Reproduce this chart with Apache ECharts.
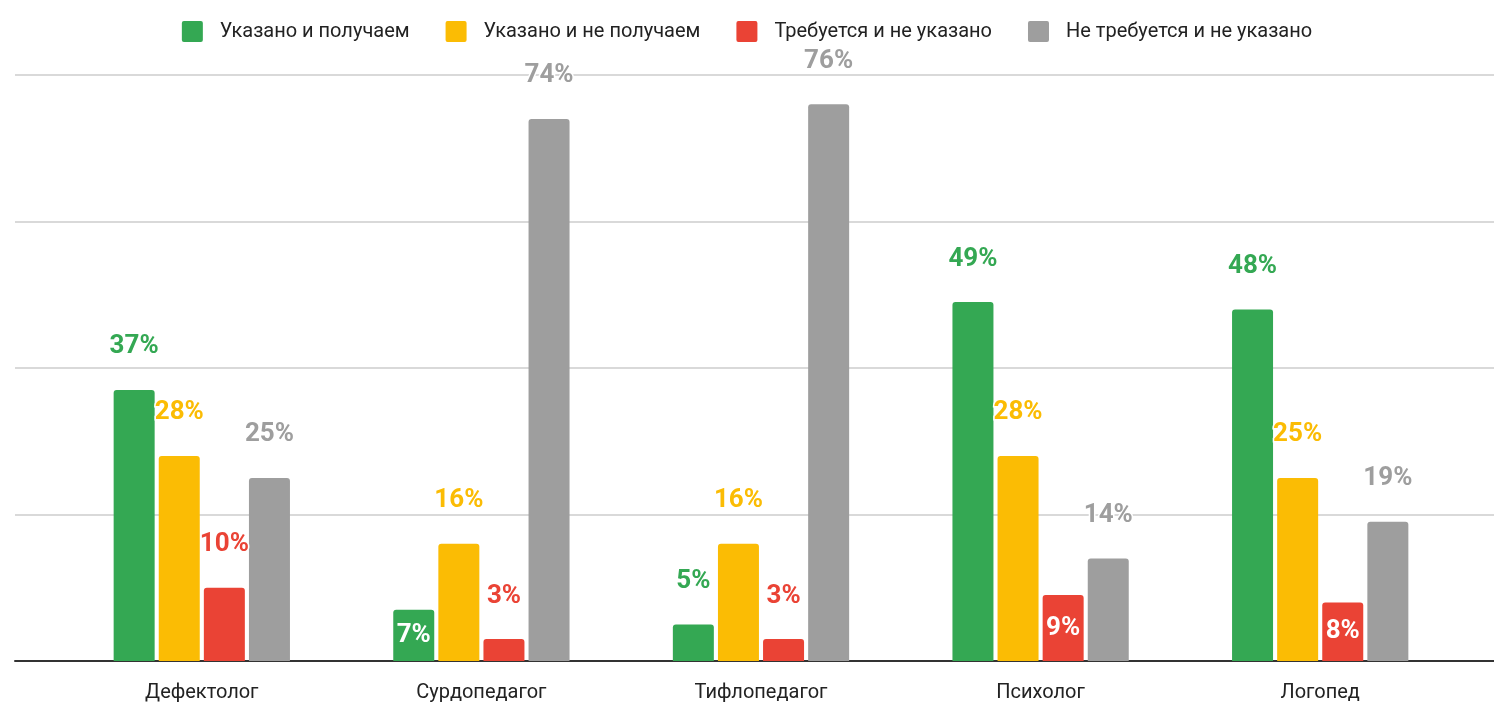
<!DOCTYPE html>
<html lang="ru">
<head>
    <meta charset="UTF-8">
    <title>Специалисты</title>
    <script src="https://cdn.jsdelivr.net/npm/echarts@6/dist/echarts.min.js"></script>
    <style>
        html, body { margin: 0; padding: 0; background: #fff; }
        #main { width: 1494px; height: 703px; }
    </style>
</head>
<body>
    <div id="main"></div>
    <script type="text/javascript">
        // категории
        var categories = ['Дефектолог', 'Сурдопедагог', 'Тифлопедагог', 'Психолог', 'Логопед'];
        // серии
        var seriesNames = ['Указано и получаем', 'Указано и не получаем', 'Требуется и не указано', 'Не требуется и не указано'];
        var givenReceived = [37, 7, 5, 49, 48];
        var givenNotReceived = [28, 16, 16, 28, 25];
        var neededNotGiven = [10, 3, 3, 9, 8];
        var notNeededNotGiven = [25, 74, 76, 14, 19];
        var yTicks = [0, 20, 40, 60, 80];

        var colors = ['#34a853', '#fbbc04', '#ea4335', '#9e9e9e'];
        var values = [givenReceived, givenNotReceived, neededNotGiven, notNeededNotGiven];
        // подписи внутри столбца (серия -> индексы категорий)
        var insideLabels = { 0: [1], 2: [3, 4] };

        var chart = echarts.init(document.getElementById('main'));

        var series = values.map(function (vals, s) {
            return {
                name: seriesNames[s],
                type: 'bar',
                xAxisIndex: 0,
                yAxisIndex: 0,
                barWidth: 41,
                barGap: '10%',
                itemStyle: { color: colors[s], borderRadius: [3, 3, 0, 0] },
                label: {
                    show: true,
                    position: 'top',
                    distance: 30,
                    formatter: '{c}%',
                    fontFamily: 'Roboto',
                    fontWeight: 'bold',
                    fontSize: 26,
                    color: colors[s],
                    textBorderColor: '#fff',
                    textBorderWidth: 3
                },
                data: vals.map(function (v, i) {
                    var inside = (insideLabels[s] || []).indexOf(i) >= 0;
                    if (!inside) return v;
                    return {
                        value: v,
                        label: { position: 'inside', color: '#fff', textBorderWidth: 0, distance: 0 }
                    };
                })
            };
        });

        var option = {
            animation: false,
            textStyle: { fontFamily: 'Roboto' },
            legend: {
                top: 16,
                left: 'center',
                itemWidth: 21,
                itemHeight: 21,
                itemGap: 36,
                icon: 'path://M2,0 L19,0 Q21,0 21,2 L21,19 Q21,21 19,21 L2,21 Q0,21 0,19 L0,2 Q0,0 2,0 Z',
                data: seriesNames,
                textStyle: { fontSize: 20, color: '#222', padding: [0, 0, 0, 12] }
            },
            grid: [
                { left: 62, right: 34, top: 75, bottom: 42 },
                { left: 15, right: 0, top: 75, bottom: 42 }
            ],
            xAxis: [
                {
                    type: 'category',
                    gridIndex: 0,
                    data: categories,
                    axisLine: { show: false },
                    axisTick: { show: false },
                    axisLabel: { fontSize: 20, color: '#222', margin: 22 }
                },
                {
                    type: 'category',
                    gridIndex: 1,
                    data: [],
                    axisLine: { show: true, lineStyle: { color: '#333', width: 2 } },
                    axisTick: { show: false },
                    axisLabel: { show: false }
                }
            ],
            yAxis: [
                {
                    type: 'value',
                    gridIndex: 0,
                    min: yTicks[0],
                    max: yTicks[yTicks.length - 1],
                    interval: 20,
                    splitLine: { show: false },
                    axisLabel: { show: false },
                    axisLine: { show: false }
                },
                {
                    type: 'value',
                    gridIndex: 1,
                    min: yTicks[0],
                    max: yTicks[yTicks.length - 1],
                    interval: 20,
                    splitLine: { lineStyle: { color: '#cccccc', width: 1.5 } },
                    axisLabel: { show: false },
                    axisLine: { show: false }
                }
            ],
            series: series
        };
        chart.setOption(option);
    </script>
</body>
</html>
